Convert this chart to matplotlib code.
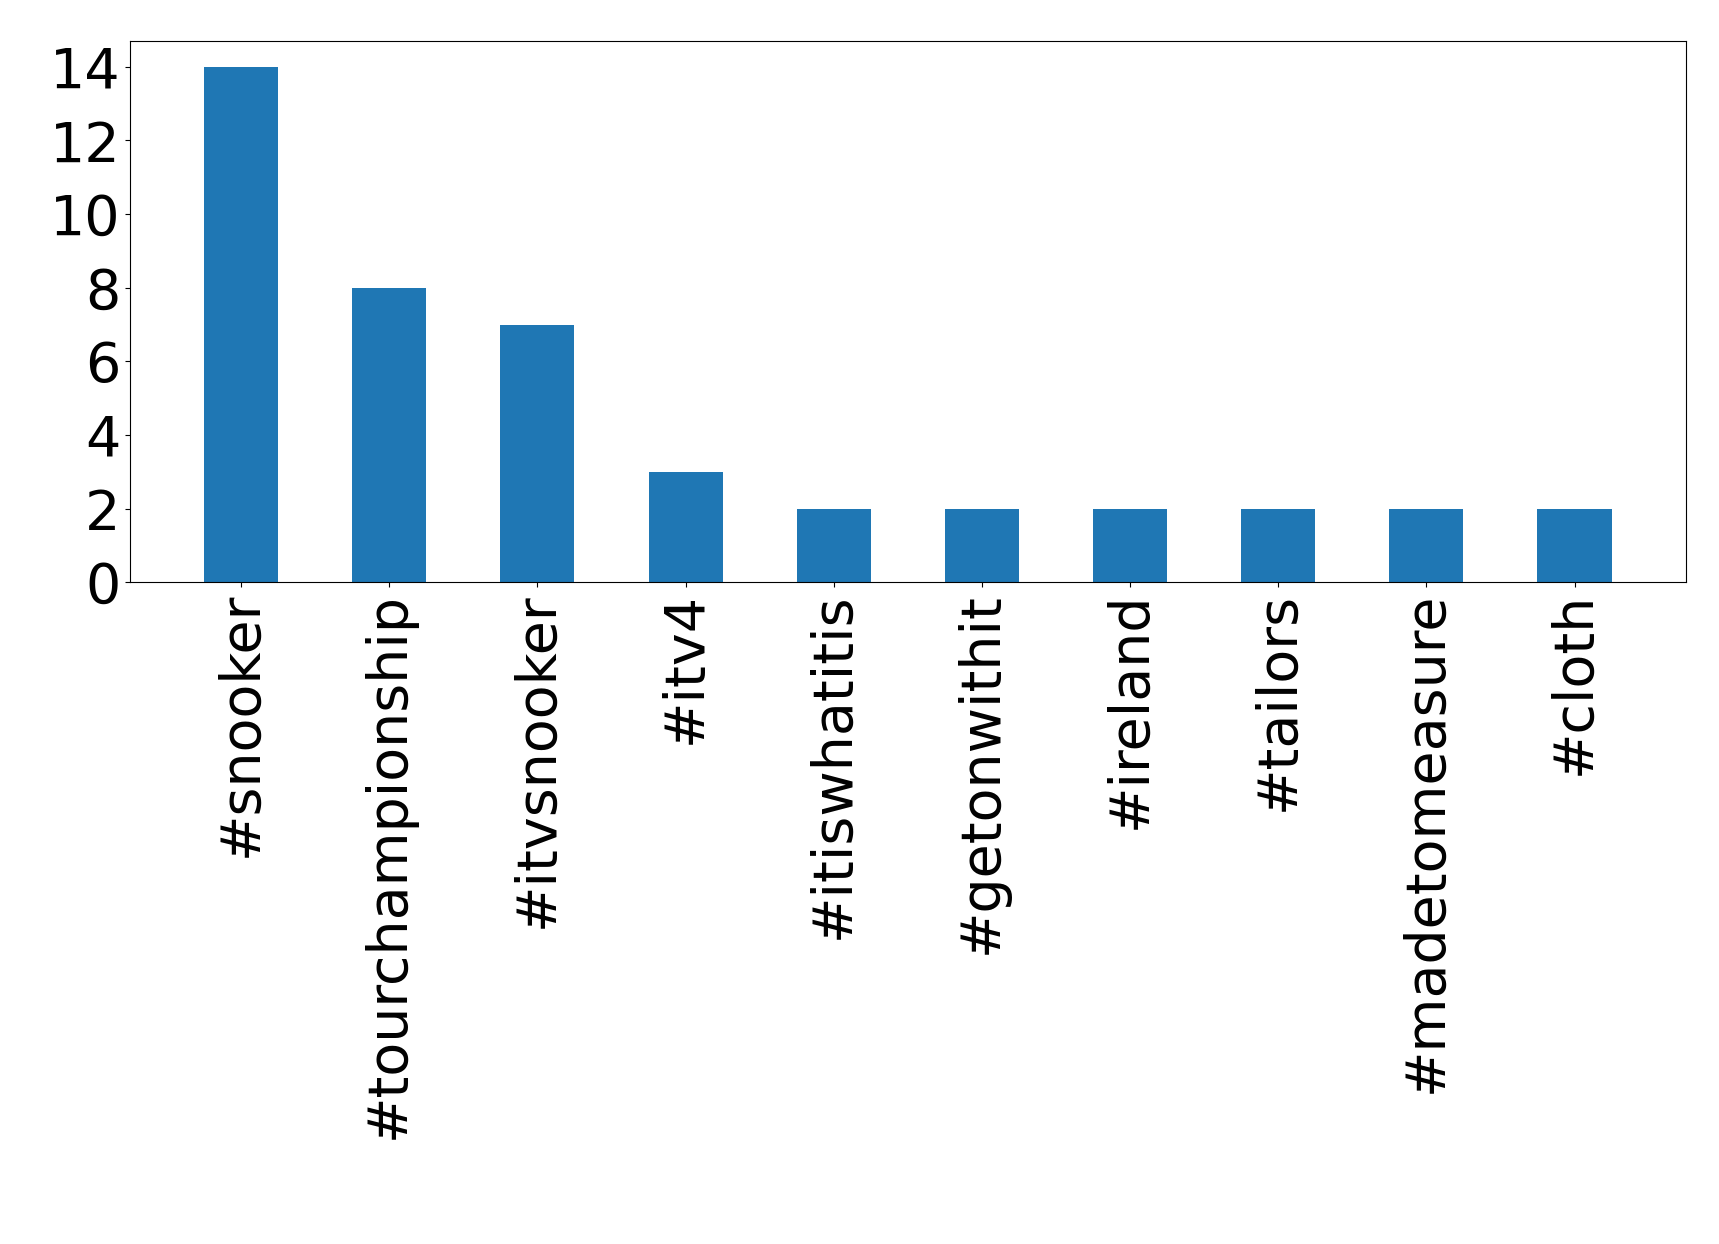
import matplotlib
matplotlib.use("Agg")
import matplotlib.pyplot as plt

tags = ["#snooker", "#tourchampionship", "#itvsnooker", "#itv4", "#itiswhatitis",
        "#getonwithit", "#ireland", "#tailors", "#madetomeasure", "#cloth"]
counts = [14, 8, 7, 3, 2, 2, 2, 2, 2, 2]

fig = plt.figure(figsize=(17.19, 12.44), dpi=100)
ax = fig.add_axes([0.0756, 0.532, 0.905, 0.435])
ax.bar(range(len(tags)), counts, width=0.5, color="#1f77b4")
ax.set_xlim(-0.75, len(tags) - 0.25)
ax.set_ylim(0, 14.7)
ax.set_xticks(range(len(tags)))
ax.set_xticklabels(tags, rotation=90)
ax.set_yticks(range(0, 15, 2))
ax.tick_params(labelsize=40)
fig.savefig("out.png", dpi=100)
